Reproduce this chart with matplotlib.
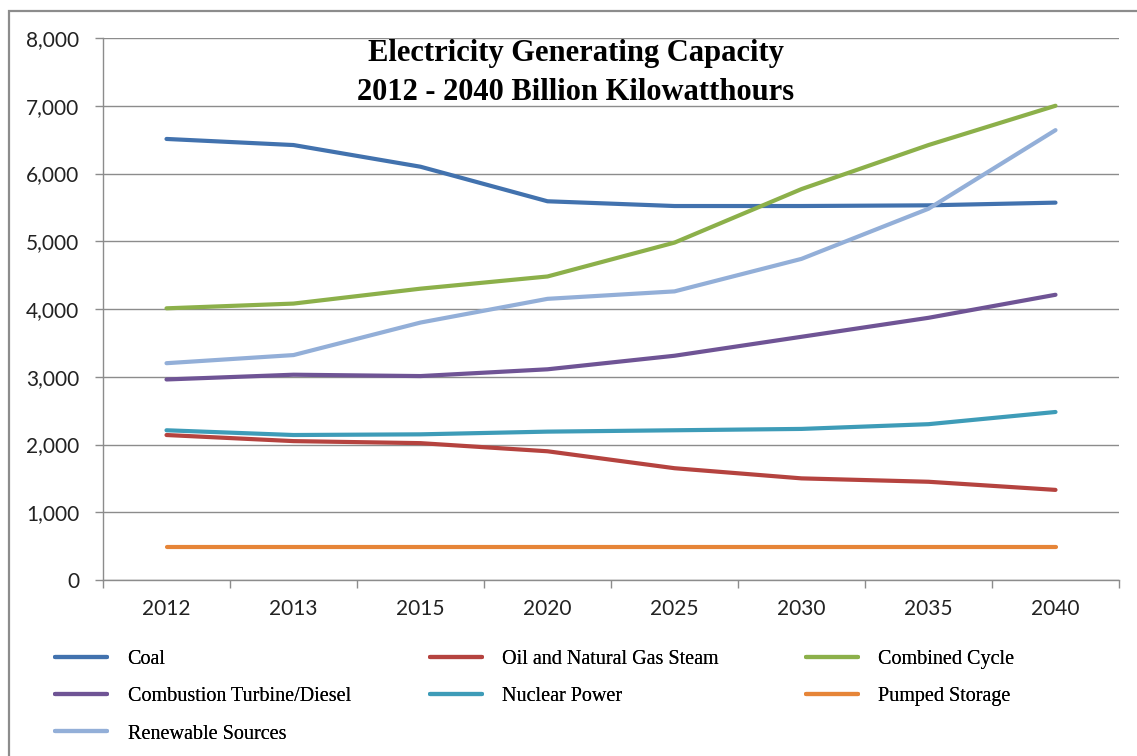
import matplotlib
matplotlib.use("Agg")
import matplotlib.pyplot as plt
from matplotlib.patches import Rectangle

# Projected generating capacity by source (billion kWh)
years = ["2012", "2013", "2015", "2020", "2025", "2030", "2035", "2040"]
coal = [6510, 6420, 6100, 5590, 5520, 5520, 5530, 5570]
oil_gas_steam = [2140, 2050, 2020, 1900, 1650, 1500, 1450, 1330]
combined_cycle = [4010, 4080, 4300, 4480, 4980, 5770, 6420, 7000]
combustion_turbine = [2960, 3030, 3010, 3110, 3310, 3590, 3870, 4210]
nuclear = [2210, 2140, 2150, 2190, 2210, 2230, 2300, 2480]
pumped_storage = [490, 490, 490, 490, 490, 490, 490, 490]
renewables = [3200, 3320, 3800, 4150, 4260, 4740, 5480, 6640]

series_names = ["Coal", "Oil and Natural Gas Steam", "Combined Cycle",
                "Combustion Turbine/Diesel", "Nuclear Power", "Pumped Storage",
                "Renewable Sources"]
series_values = [coal, oil_gas_steam, combined_cycle, combustion_turbine,
                 nuclear, pumped_storage, renewables]
series_colors = ["#4272AE", "#B5433F", "#8CB04A", "#6F5495", "#3E9CB8",
                 "#E68538", "#93AFD8"]

y_ticks = [0, 1000, 2000, 3000, 4000, 5000, 6000, 7000, 8000]

W, H, DPI = 1137, 756, 100
fig = plt.figure(figsize=(W / DPI, H / DPI), dpi=DPI)
fig.patch.set_facecolor("white")

# outer chart frame
fig.add_artist(Rectangle((9 / W, -0.05), 1.2, 1 - 11 / H + 0.05,
                         transform=fig.transFigure, fill=False,
                         edgecolor="#8c8c8c", linewidth=1.6, zorder=0))

ax = fig.add_axes([103 / W, 1 - 580 / H, 1016 / W, 542 / H])
x = list(range(len(years)))
handles = []
for name, vals, col in zip(series_names, series_values, series_colors):
    h, = ax.plot(x, vals, color=col, linewidth=3.0, solid_capstyle="round",
                 label=name, zorder=3)
    handles.append(h)

ax.set_xlim(-0.5, len(years) - 0.5)
ax.set_ylim(0, 8000)
ax.set_yticks(y_ticks)
ax.set_yticklabels([f"{v:,}" for v in y_ticks])
ax.set_xticks([i - 0.5 for i in range(len(years) + 1)])
ax.set_xticklabels([])
ax.set_xticks(x, minor=True)
ax.set_xticklabels(years, minor=True)

grid_col = "#8c8c8c"
ax.grid(axis="y", color=grid_col, linewidth=1.0, zorder=1)
ax.set_axisbelow(True)
for side in ["top", "right"]:
    ax.spines[side].set_visible(False)
for side in ["left", "bottom"]:
    ax.spines[side].set_color(grid_col)
    ax.spines[side].set_linewidth(1.0)

ax.tick_params(axis="y", which="major", length=6, width=1.0, color=grid_col,
               pad=11, labelcolor="#222222", labelsize=15)
ax.tick_params(axis="x", which="major", length=6, width=1.0, color=grid_col,
               direction="out")
ax.tick_params(axis="x", which="minor", length=0, pad=14,
               labelcolor="#222222", labelsize=15)
for lab in ax.get_yticklabels() + ax.get_xticklabels(minor=True):
    lab.set_family("Lato")

fig.text(576 / W, 1 - 73 / H,
         "Electricity Generating Capacity\n2012 - 2040 Billion Kilowatthours",
         ha="center", va="center", fontsize=22, fontweight="bold",
         family="Liberation Serif", linespacing=1.5, color="black")

# legend laid out in three columns, filled row by row
columns = [[0, 3, 6], [1, 4], [2, 5]]
col_x = [55, 430, 806]
for idxs, cx in zip(columns, col_x):
    leg = fig.legend([handles[i] for i in idxs], [series_names[i] for i in idxs],
                     loc="upper left", bbox_to_anchor=(cx / W, 1 - 650 / H),
                     frameon=False, borderpad=0, borderaxespad=0,
                     handlelength=2.6, handletextpad=1.0, labelspacing=0.9,
                     prop=dict(family="Liberation Serif", size=14.5))
    fig.add_artist(leg)

fig.savefig("out.png", dpi=DPI)
